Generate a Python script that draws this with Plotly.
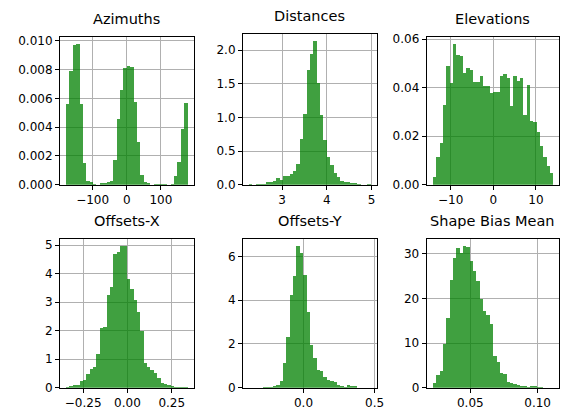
import numpy as np
import plotly.graph_objects as go

titles = ["Azimuths", "Distances", "Elevations", "Offsets-X", "Offsets-Y", "Shape Bias Mean"]

# histogram data: (lo, hi) of data range and density values for equal-width bins
az_lo, az_hi = -178.0, 178.0
az_density = [0.0056, 0.0079, 0.0097, 0.0098, 0.0056, 0.0015, 0.0003, 0.0002, 0.00005, 0.0,
              0.0001, 0.0001, 0.0002, 0.0003, 0.0017, 0.0046, 0.0066, 0.0081, 0.0083, 0.0082,
              0.0058, 0.0030, 0.0007, 0.0002, 0.00015, 0.0, 0.00007, 0.00007, 0.00007, 0.00007,
              0.0, 0.00007, 0.0006, 0.0016, 0.0039, 0.0057]

dist_lo, dist_hi = 2.26, 4.98
dist_density = [0.015, 0.0, 0.01, 0.015, 0.015, 0.04, 0.04, 0.05, 0.10, 0.07,
                0.12, 0.13, 0.15, 0.20, 0.30, 0.67, 1.05, 1.70, 1.94, 2.13,
                1.51, 1.03, 0.66, 0.41, 0.29, 0.17, 0.11, 0.05, 0.035, 0.035,
                0.03, 0.025, 0.01, 0.0, 0.0, 0.015]

elev_lo, elev_hi = -14.2, 14.0
elev_density = [0.0033, 0.0115, 0.0173, 0.0328, 0.0491, 0.0421, 0.0580, 0.0534, 0.0531, 0.0462,
                0.0481, 0.0474, 0.0422, 0.0422, 0.0450, 0.0405, 0.0405, 0.0376, 0.0381, 0.0381,
                0.0447, 0.0458, 0.0438, 0.0323, 0.0447, 0.0429, 0.0438, 0.0288, 0.0412, 0.0262,
                0.0259, 0.0216, 0.0159, 0.0113, 0.0077, 0.0049]

offx_lo, offx_hi = -0.347, 0.339
offx_density = [0.02, 0.05, 0.10, 0.11, 0.25, 0.28, 0.50, 0.65, 0.73, 1.19,
                2.10, 2.15, 3.25, 3.56, 4.70, 4.78, 4.98, 4.98, 3.82, 3.48,
                3.08, 2.66, 2.00, 0.88, 0.73, 0.62, 0.51, 0.34, 0.17, 0.14,
                0.11, 0.06, 0.03, 0.03, 0.02, 0.02]

offy_lo, offy_hi = -0.383, 0.473
offy_density = [0.005, 0.0, 0.01, 0.01, 0.02, 0.03, 0.06, 0.10, 0.15, 0.30,
                1.13, 2.34, 4.27, 5.12, 6.49, 6.18, 5.15, 3.48, 1.98, 1.39,
                0.83, 0.76, 0.51, 0.37, 0.32, 0.29, 0.15, 0.10, 0.06, 0.12,
                0.10, 0.07, 0.01, 0.0, 0.0, 0.01]

sb_lo, sb_hi = 0.0221, 0.1114
sb_density = [1.1, 3.0, 3.8, 9.8, 15.6, 24.2, 29.1, 31.4, 30.3, 31.8,
              31.6, 28.4, 26.3, 24.0, 19.9, 17.2, 16.3, 14.4, 7.2, 5.7,
              3.4, 3.1, 1.4, 1.1, 0.9, 0.7, 0.5, 0.35, 0.3, 0.35,
              0.35, 0.2, 0.1, 0.05, 0.05, 0.05]

# tick values / labels
x_tickvals = [[-100, 0, 100], [3, 4, 5], [-10, 0, 10], [-0.25, 0.0, 0.25], [0.0, 0.5], [0.05, 0.10]]
x_ticktext = [["−100", "0", "100"], ["3", "4", "5"], ["−10", "0", "10"],
              ["−0.25", "0.00", "0.25"], ["0.0", "0.5"], ["0.05", "0.10"]]
y_tickvals = [[0, 0.002, 0.004, 0.006, 0.008, 0.010], [0, 0.5, 1.0, 1.5, 2.0], [0, 0.02, 0.04, 0.06],
              [0, 1, 2, 3, 4, 5], [0, 2, 4, 6], [0, 10, 20, 30]]
y_ticktext = [["0.000", "0.002", "0.004", "0.006", "0.008", "0.010"], ["0.0", "0.5", "1.0", "1.5", "2.0"],
              ["0.00", "0.02", "0.04", "0.06"], ["0", "1", "2", "3", "4", "5"], ["0", "2", "4", "6"],
              ["0", "10", "20", "30"]]

hists = [(az_lo, az_hi, az_density), (dist_lo, dist_hi, dist_density), (elev_lo, elev_hi, elev_density),
         (offx_lo, offx_hi, offx_density), (offy_lo, offy_hi, offy_density), (sb_lo, sb_hi, sb_density)]

W, H = 568, 417
col_px = [(60.7, 196.0), (246.0, 381.5), (432.0, 566.0)]
row_px = [[(32.7, 185.0), (30.0, 185.0), (33.0, 185.0)], [(240.7, 394.0)] * 3]

fig = go.Figure()
layout = {}
annotations = []
for i, (lo, hi, dens) in enumerate(hists):
    r, c = divmod(i, 3)
    n = len(dens)
    edges = np.linspace(lo, hi, n + 1)
    centers = (edges[:-1] + edges[1:]) / 2
    width = (hi - lo) / n
    sfx = "" if i == 0 else str(i + 1)
    fig.add_trace(go.Bar(x=centers, y=dens, width=width, marker=dict(color="rgba(0,128,0,0.75)", line=dict(width=0)),
                         xaxis="x" + sfx, yaxis="y" + sfx, showlegend=False, hoverinfo="skip"))
    span = hi - lo
    ymax = max(dens) * 1.05
    x0, x1 = col_px[c]
    t, b = row_px[r][c]
    common = dict(showline=True, linecolor="black", linewidth=1, mirror=True, ticks="outside",
                  ticklen=4, tickwidth=1, tickcolor="black", showgrid=True, gridcolor="#b0b0b0",
                  gridwidth=1, zeroline=False, tickfont=dict(family="DejaVu Sans", size=12, color="black"))
    layout["xaxis" + sfx] = dict(domain=[x0 / W, x1 / W], anchor="y" + sfx, range=[lo - 0.05 * span, hi + 0.05 * span],
                                 tickvals=x_tickvals[i], ticktext=x_ticktext[i], **common)
    layout["yaxis" + sfx] = dict(domain=[1 - b / H, 1 - t / H], anchor="x" + sfx, range=[0, ymax],
                                 tickvals=y_tickvals[i], ticktext=y_ticktext[i], **common)
    annotations.append(dict(text=titles[i], x=(x0 + x1) / 2 / W, y=1 - t / H, xref="paper", yref="paper",
                            xanchor="center", yanchor="bottom", yshift=8, showarrow=False,
                            font=dict(family="DejaVu Sans", size=14.5, color="black")))

fig.update_layout(width=W, height=H, margin=dict(l=0, r=0, t=0, b=0), plot_bgcolor="white",
                  paper_bgcolor="white", bargap=0, annotations=annotations, **layout)
fig.write_html("out.html", config={"displayModeBar": False},
               post_script="document.body.style.margin='0';document.body.style.overflow='hidden';")
